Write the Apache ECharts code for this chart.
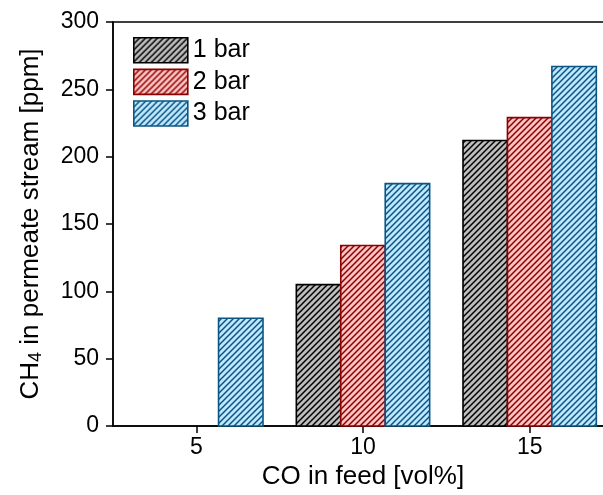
<!DOCTYPE html>
<html>
<head>
<meta charset="utf-8">
<script src="https://cdn.jsdelivr.net/npm/echarts@6/dist/echarts.min.js"></script>
<style>
  html, body { margin: 0; padding: 0; background: #fff; }
  #chart { width: 603px; height: 495px; }
</style>
</head>
<body>
<div id="chart"></div>
<script>
// CO in feed [vol%]
const coFeed = [5, 10, 15]
const seriesNames = ['1 bar', '2 bar', '3 bar']
// CH4 in permeate stream [ppm]
const bar1 = [null, 105, 212]
const bar2 = [null, 134, 229]
const bar3 = [80, 180, 267]
const xTicks = [5, 10, 15]

const styles = [
  { fill: '#bdbdbd', line: '#000000' },
  { fill: '#ffc4c4', line: '#8b0000' },
  { fill: '#bfe8ff', line: '#0b5584' },
]

function makeHatch(bg, fg) {
  const s = 6
  const c = document.createElement('canvas')
  c.width = s
  c.height = s
  const ctx = c.getContext('2d')
  ctx.fillStyle = bg
  ctx.fillRect(0, 0, s, s)
  ctx.strokeStyle = fg
  ctx.lineWidth = 1.5
  ctx.beginPath()
  ctx.moveTo(-1, s + 1); ctx.lineTo(s + 1, -1)
  ctx.moveTo(-1, 1); ctx.lineTo(1, -1)
  ctx.moveTo(s - 1, s + 1); ctx.lineTo(s + 1, s - 1)
  ctx.stroke()
  return c
}

const patterns = styles.map(st => ({ image: makeHatch(st.fill, st.line), repeat: 'repeat' }))

const barStep = 4 / 3 // width of one bar in x units
const allData = [bar1, bar2, bar3]

function makeSeries(idx) {
  const vals = allData[idx]
  const data = coFeed.map((x, i) => [x, vals[i]]).filter(d => d[1] != null)
  return {
    name: seriesNames[idx],
    type: 'custom',
    itemStyle: { color: patterns[idx], borderColor: styles[idx].line, borderWidth: 1.5 },
    renderItem(params, api) {
      const x = api.value(0)
      const y = api.value(1)
      const center = x + (idx - 1) * barStep
      const p0 = api.coord([center - barStep / 2, y])
      const p1 = api.coord([center + barStep / 2, 0])
      return {
        type: 'rect',
        shape: { x: p0[0], y: p0[1], width: p1[0] - p0[0], height: p1[1] - p0[1] },
        style: { fill: patterns[idx], stroke: styles[idx].line, lineWidth: 1.6 },
      }
    },
    encode: { x: 0, y: 1 },
    data,
  }
}

const chart = echarts.init(document.getElementById('chart'))
const font = 'Liberation Sans, Arial, sans-serif'

chart.setOption({
  animation: false,
  textStyle: { fontFamily: font },
  grid: {
    left: 113, top: 22, width: 500, height: 404,
    outerBoundsMode: 'none',
    containLabel: false,
    show: true, borderColor: '#000', borderWidth: 1.5, backgroundColor: 'transparent',
  },
  legend: {
    left: 128, top: 32,
    orient: 'vertical',
    itemWidth: 54, itemHeight: 25, itemGap: 5,
    icon: 'rect',
    textStyle: { fontSize: 25, color: '#000', fontFamily: font },
    data: seriesNames.map((n, i) => ({
      name: n,
      itemStyle: { color: patterns[i], borderColor: styles[i].line, borderWidth: 1.6 },
    })),
  },
  xAxis: {
    type: 'value',
    min: 2.5, max: 17.5,
    name: 'CO in feed [vol%]',
    nameLocation: 'middle',
    nameGap: 38,
    nameTextStyle: { fontSize: 26, color: '#000', fontFamily: font },
    axisLine: { lineStyle: { color: '#000', width: 1.5 } },
    axisTick: { show: true, inside: false, length: 7, customValues: xTicks, lineStyle: { color: '#000', width: 1.5 } },
    axisLabel: { customValues: xTicks, margin: 10, fontSize: 23, color: '#000', fontFamily: font },
    splitLine: { show: false },
  },
  yAxis: {
    type: 'value',
    min: 0, max: 300, interval: 50,
    name: 'CH{sub|4} in permeate stream [ppm]',
    nameLocation: 'middle',
    nameGap: 68,
    nameTextStyle: {
      fontSize: 26, color: '#000', fontFamily: font,
      rich: { sub: { fontSize: 18, color: '#000', fontFamily: font, padding: [10, 0, 0, 0] } },
    },
    axisLine: { show: true, lineStyle: { color: '#000', width: 1.5 } },
    axisTick: { show: true, inside: false, length: 7, lineStyle: { color: '#000', width: 1.5 } },
    axisLabel: { margin: 14, fontSize: 23, color: '#000', fontFamily: font },
    splitLine: { show: false },
  },
  series: [0, 1, 2].map(makeSeries),
})
</script>
</body>
</html>
